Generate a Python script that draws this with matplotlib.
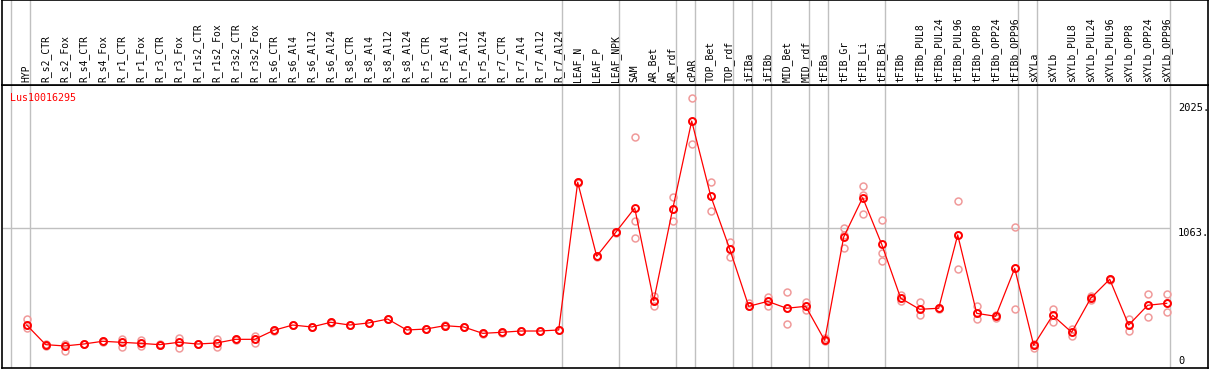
import matplotlib
matplotlib.use("Agg")
import matplotlib.pyplot as plt

# gene shown in the panel
gene = "Lus10016295"

# sample names, in plot order
samples = [
    "HYP",
    "R_s2_CTR", "R_s2_Fox", "R_s4_CTR", "R_s4_Fox", "R_r1_CTR", "R_r1_Fox",
    "R_r3_CTR", "R_r3_Fox", "R_r1s2_CTR", "R_r1s2_Fox", "R_r3s2_CTR", "R_r3s2_Fox",
    "R_s6_CTR", "R_s6_Al4", "R_s6_Al12", "R_s6_Al24",
    "R_s8_CTR", "R_s8_Al4", "R_s8_Al12", "R_s8_Al24",
    "R_r5_CTR", "R_r5_Al4", "R_r5_Al12", "R_r5_Al24",
    "R_r7_CTR", "R_r7_Al4", "R_r7_Al12", "R_r7_Al24",
    "LEAF_N", "LEAF_P", "LEAF_NPK",
    "SAM", "AR_Bet", "AR_rdf",
    "cPAR",
    "TOP_Bet", "TOP_rdf",
    "iFIBa",
    "iFIBb",
    "MID_Bet", "MID_rdf",
    "tFIBa",
    "tFIB_Gr", "tFIB_Li", "tFIB_Bi",
    "tFIBb", "tFIBb_PUL8", "tFIBb_PUL24", "tFIBb_PUL96",
    "tFIBb_OPP8", "tFIBb_OPP24", "tFIBb_OPP96",
    "sXYLa",
    "sXYLb", "sXYLb_PUL8", "sXYLb_PUL24", "sXYLb_PUL96",
    "sXYLb_OPP8", "sXYLb_OPP24", "sXYLb_OPP96",
]

# mean expression per sample
means = [
    319,
    168, 158, 173, 194, 186, 178,
    168, 186, 173, 181, 209, 209,
    278, 319, 304, 340,
    319, 335, 365, 281,
    288, 314, 304, 255,
    263, 273, 273, 281,
    1417, 848, 1032,
    1219, 506, 1212,
    1888,
    1312, 904,
    463,
    501,
    448, 463,
    201,
    996, 1299, 940,
    525, 440, 448, 1012,
    409, 386, 755,
    163,
    394, 263, 525, 671,
    319, 471, 486,
]

# replicate values per sample
replicates = [
    [362, 294, 319],
    [168, 160, 172], [171, 122, 160], [173, 170, 176], [194, 198, 190], [209, 152, 186], [206, 160, 178],
    [168, 162, 175], [222, 145, 186], [173, 170, 176], [209, 152, 181], [209, 205, 212], [235, 178, 209],
    [278, 275, 281], [319, 316, 322], [304, 301, 307], [340, 337, 343],
    [319, 316, 322], [335, 332, 338], [365, 362, 368], [281, 278, 284],
    [288, 285, 291], [314, 311, 317], [304, 301, 307], [255, 252, 258],
    [263, 260, 266], [273, 270, 276], [273, 270, 276], [281, 278, 284],
    [1417, 1414, 1420], [848, 845, 851], [1032, 1029, 1035],
    [1765, 1117, 986], [542, 468, 506], [1302, 1119, 1212],
    [2063, 1709, 1888],
    [1417, 1196, 1312], [955, 840, 904],
    [486, 463, 463],
    [537, 468, 501],
    [573, 325, 448], [499, 435, 463],
    [217, 201, 195],
    [1063, 909, 1010], [1386, 1171, 1320], [1127, 871, 814],
    [550, 506, 525], [496, 394, 440], [448, 452, 444], [1273, 748, 1012],
    [465, 363, 409], [400, 372, 386], [1071, 440, 755],
    [145, 170, 163],
    [440, 345, 394], [288, 237, 263], [545, 510, 525], [671, 668, 674],
    [363, 271, 319], [555, 383, 471], [555, 417, 486],
]

# last sample index of each group (vertical separators)
group_ends = [-1, 0, 28, 31, 34, 35, 37, 38, 39, 41, 42, 45, 52, 53, 60]

# right-hand axis labels
ytick_vals = [2025, 1063, 0]
ytick_text = ["2025.", "1063.", "0"]

W, H = 1209, 370
fig = plt.figure(figsize=(W / 100, H / 100), dpi=100)

x_left, x_right = 2, 1208
head_bot, plot_bot = 85, 368
x0, dx = 26.7, 19.0
xlim = ((x_left - x0) / dx, (x_right - x0) / dx)
y0, sy = 366.5, 0.13
ylim = ((y0 - plot_bot) / sy, (y0 - head_bot) / sy)

ax = fig.add_axes([x_left / W, (H - plot_bot) / H, (x_right - x_left) / W, (plot_bot - head_bot) / H])
hd = fig.add_axes([x_left / W, (H - head_bot) / H, (x_right - x_left) / W, head_bot / H - 0.001])

for a in (ax, hd):
    a.set_xlim(*xlim)
    a.set_xticks([])
    a.set_yticks([])
    for s in a.spines.values():
        s.set_color("black")
        s.set_linewidth(1.2)
    for g in group_ends:
        a.axvline(g + 0.195, color="#c0c0c0", lw=1.0, zorder=0)
ax.set_ylim(*ylim)
hd.set_ylim(0, 1)

sep_right = group_ends[-1] + 0.195
ax.hlines(1063, xlim[0], sep_right, color="#c0c0c0", lw=1.0, zorder=0)

xs = list(range(len(samples)))
for i, reps in enumerate(replicates):
    ax.plot([i] * len(reps), reps, "o", ms=5, mfc="none", mec="#f09a9a", mew=1.1, zorder=2)
ax.plot(xs, means, "-", color="red", lw=0.9, zorder=3)
ax.plot(xs, means, "o", ms=5, mfc="none", mec="red", mew=1.4, zorder=4)

for i, name in enumerate(samples):
    hd.text(i, 0.035, name, rotation=90, ha="center", va="bottom",
            family="DejaVu Sans Mono", fontsize=7)

ax.text(8 / (x_right - x_left), 0.972, gene, transform=ax.transAxes, color="red",
        family="DejaVu Sans Mono", fontsize=7.2, ha="left", va="top")

for v, t in zip(ytick_vals, ytick_text):
    va = "bottom" if v == 0 else "top"
    ax.text(60.6, v, t, ha="left", va=va, family="DejaVu Sans Mono", fontsize=7.5)

fig.savefig("out.png", dpi=100)
